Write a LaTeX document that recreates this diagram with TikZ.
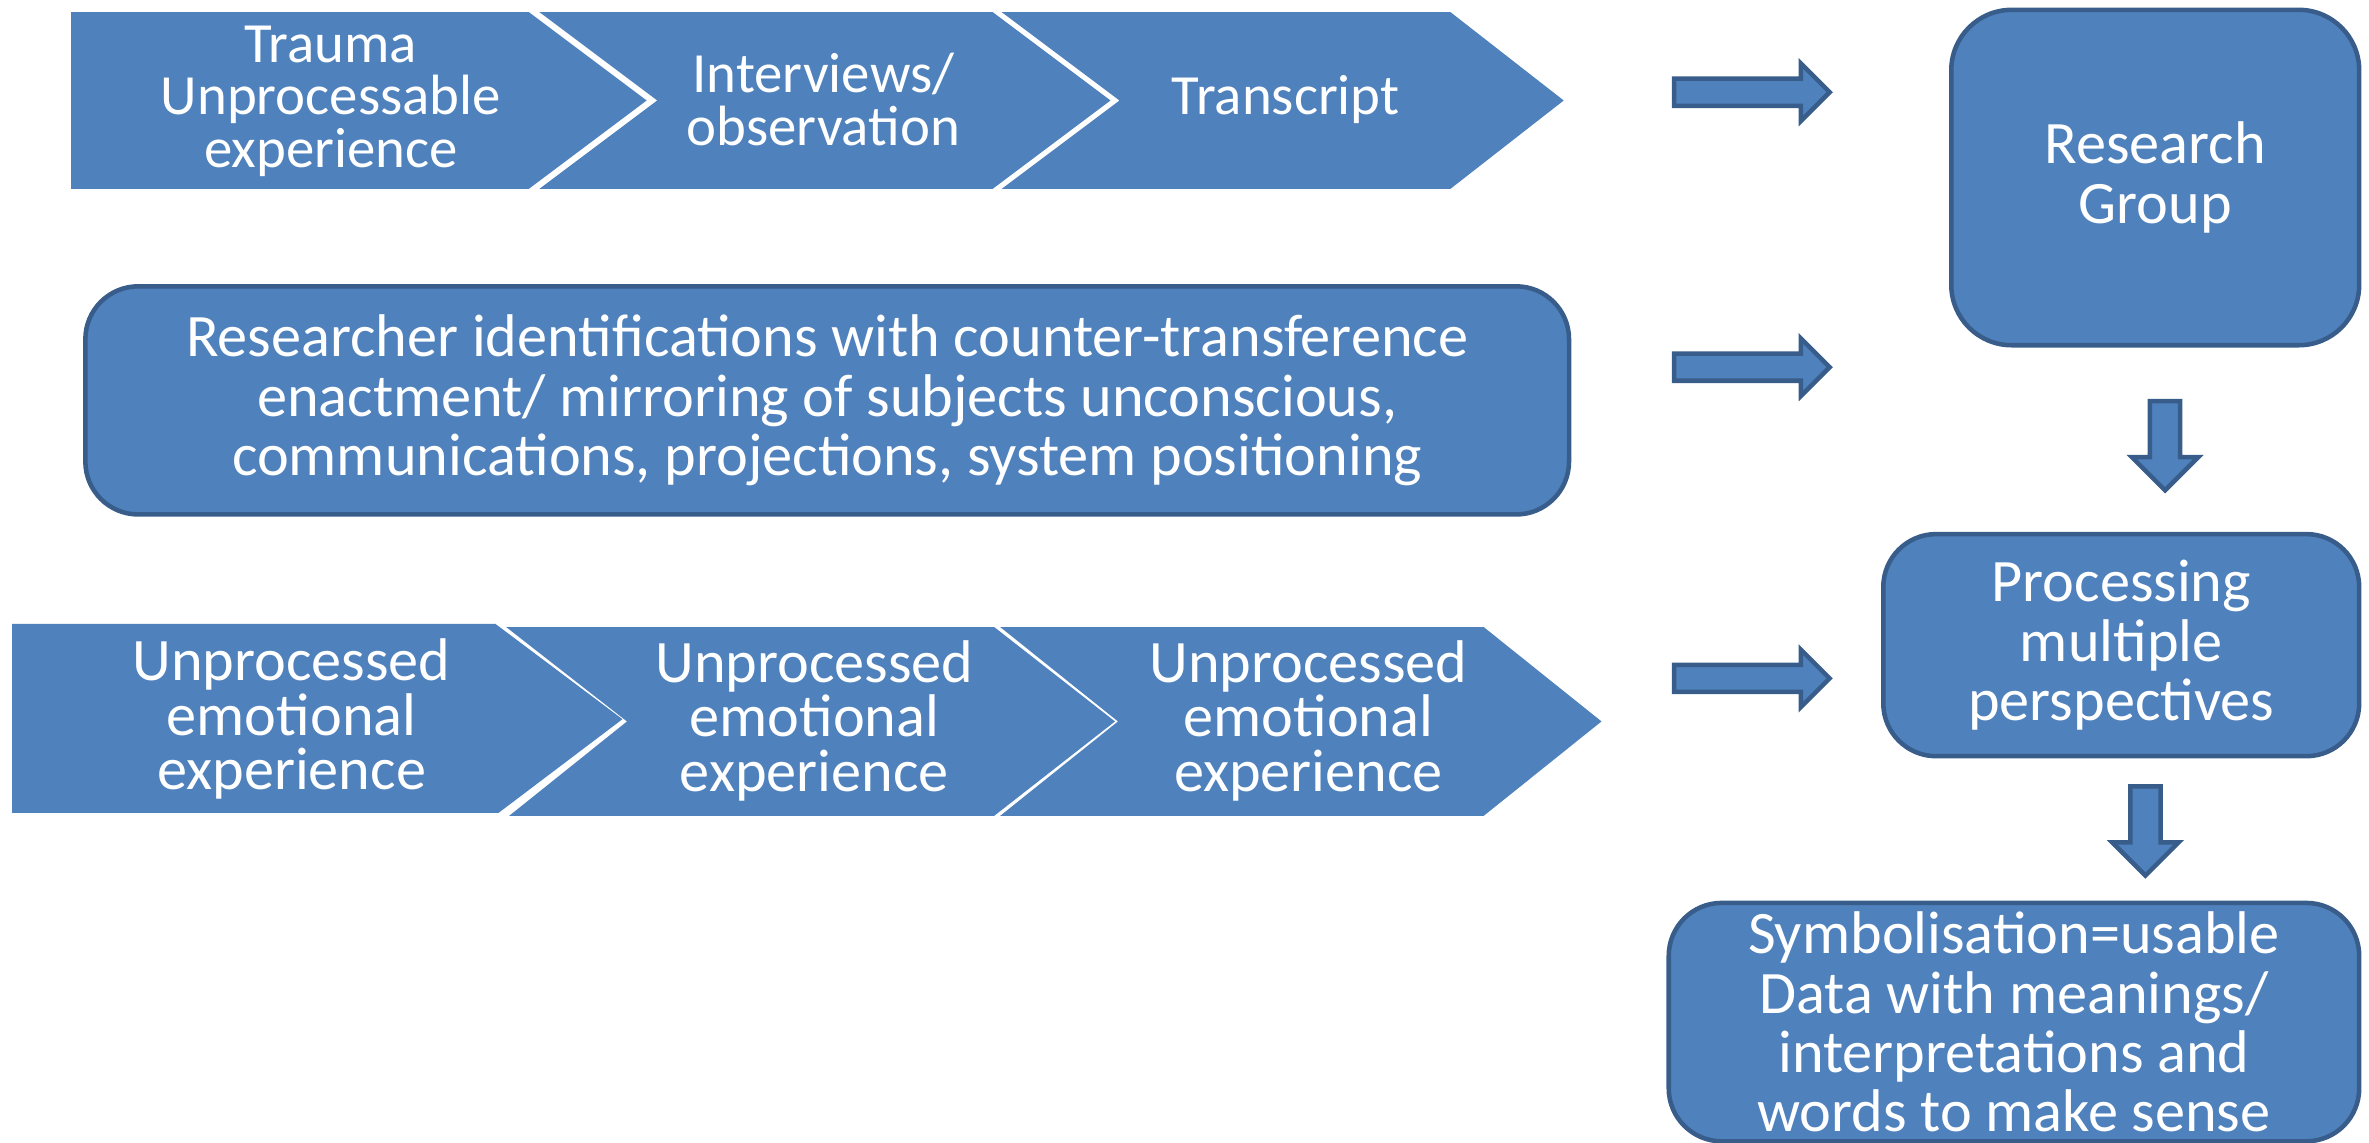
\documentclass[tikz,border=0pt]{standalone}
\usepackage{fontspec}
\setmainfont{Carlito}
\usetikzlibrary{shapes.arrows,positioning}
\definecolor{offblue}{HTML}{4F81BD}
\definecolor{offline}{HTML}{385D8A}

\begin{document}
\begin{tikzpicture}[x=0.02cm,y=-0.02cm,
    chev/.style={fill=offblue},
    chevtxt/.style={text=white,align=center,font=\fontsize{21.4}{19.9}\selectfont},
    chevtxt1/.style={text=white,align=center,font=\fontsize{22.7}{20.5}\selectfont},
    box/.style={rectangle,rounded corners=0.7cm,draw=offline,line width=0.06cm,fill=offblue,text=white,align=center,font=\fontsize{22.7}{22.4}\selectfont},
    blk/.style={single arrow,draw=offline,line width=0.06cm,fill=offblue,inner sep=7.5*0.02cm,minimum height=103*0.02cm,single arrow head extend=10*0.02cm},
    blkdown/.style={single arrow,shape border rotate=270,draw=offline,line width=0.06cm,fill=offblue,inner sep=8.5*0.02cm,minimum height=59*0.02cm,single arrow head extend=12*0.02cm}]
    \useasboundingbox (0,0) rectangle (1568,756.5);

    % top chevrons
    \fill[chev] (47,8) -- (350,8) -- (428,66.5) -- (350,125) -- (47,125) -- cycle;
    \fill[chev] (357,8) -- (657,8) -- (735,66.5) -- (657,125) -- (357,125) -- (435,66.5) -- cycle;
    \fill[chev] (663,8) -- (960,8) -- (1035,66.5) -- (960,125) -- (663,125) -- (741,66.5) -- cycle;
    \node[chevtxt] (trauma) at (219,67) {Trauma\\Unprocessable\\experience};
    \node[chevtxt] (interv) at (545,66) {Interviews/\\observation};
    \node[chevtxt] (transc) at (851,66) {Transcript};

    % researcher box
    \node[box,minimum width=982*0.02cm,minimum height=151*0.02cm] (ident) at (547.5,265)
        {Researcher identifications with counter-transference\\enactment/ mirroring of subjects unconscious,\\communications, projections, system positioning};

    % bottom chevrons
    \fill[chev] (8,413) -- (328,413) -- (412,476) -- (330,538) -- (8,538) -- cycle;
    \fill[chev] (335,415) -- (658,415) -- (738,477.5) -- (658,540) -- (337,540) -- (415,477.5) -- cycle;
    \fill[chev] (662,415) -- (982,415) -- (1060,477.5) -- (982,540) -- (662,540) -- (740,477.5) -- cycle;
    \node[chevtxt1] (unp1) at (193,476) {Unprocessed\\emotional\\experience};
    \node[chevtxt1] (unp2) at (539,477) {Unprocessed\\emotional\\experience};
    \node[chevtxt1] (unp3) at (866,477) {Unprocessed\\emotional\\experience};

    % right column
    \node[box,rounded corners=0.8cm,minimum width=270*0.02cm,minimum height=222*0.02cm] (group) at (1426.5,117.5) {Research\\Group};
    \node[box,minimum width=315*0.02cm,minimum height=147*0.02cm] (proc) at (1404,427) {Processing\\multiple\\perspectives};
    \node[box,minimum width=457*0.02cm,minimum height=154*0.02cm] (symb) at (1333,676.5)
        {Symbolisation=usable\\Data with meanings/\\interpretations and\\words to make sense};

    % block arrows
    \node[blk] (a1) at (1155,61) {};
    \node[blk] (a2) at (1155,243) {};
    \node[blk] (a3) at (1155,449) {};
    \node[blkdown] (d1) at (1433,290) {};
    \node[blkdown] (d2) at (1420,545) {};
\end{tikzpicture}
\end{document}
